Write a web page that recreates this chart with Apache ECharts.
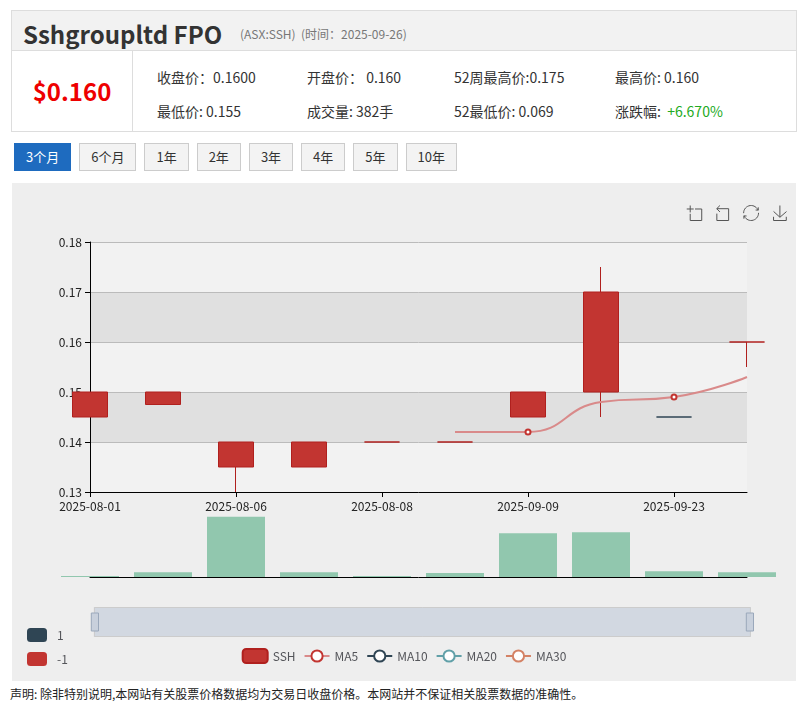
<!DOCTYPE html>
<html><head><meta charset="utf-8">
<script src="https://cdn.jsdelivr.net/npm/echarts@6/dist/echarts.min.js"></script>
<style>
body{margin:0;font-family:"Microsoft YaHei","Noto Sans CJK SC",sans-serif;background:#fff;width:808px;height:711px;position:relative;overflow:hidden}
.head{position:absolute;left:11px;top:10px;width:784px;height:40px;background:#f2f2f2;border:1px solid #ddd;border-bottom:none}
.head b{position:absolute;left:11px;top:5px;font-size:24px;color:#333}
.head span{position:absolute;left:228px;top:14px;font-size:12px;color:#777}
.info{position:absolute;left:11px;top:50px;width:784px;height:80px;border:1px solid #ddd}
.price{position:absolute;left:0;top:0;width:120px;height:80px;border-right:1px solid #ddd;color:#e00;font-size:24px;font-weight:bold;text-align:center;line-height:80px}
.info i{position:absolute;font-style:normal;font-size:14px;color:#333}
.btns{position:absolute;left:14px;top:143px}
.btns a{display:inline-block;height:26px;line-height:26px;padding:0 11px;margin-right:8px;border:1px solid #ccc;background:#f3f3f3;font-size:13px;color:#333}
.btns a.on{background:#1e6bbf;color:#fff;border-color:#1e6bbf}
#main{position:absolute;left:12px;top:183px;width:784px;height:498px;background:#eeeeee}
.note{position:absolute;left:10px;top:685px;font-size:12px;color:#222}
</style></head><body>
<div class="head"><b>Sshgroupltd FPO</b><span>(ASX:SSH)&nbsp;&nbsp;(时间：2025-09-26)</span></div>
<div class="info"><div class="price">$0.160</div>
<i style="left:145px;top:16px">收盘价：0.1600</i><i style="left:295px;top:16px">开盘价：&nbsp;0.160</i><i style="left:442px;top:16px">52周最高价:0.175</i><i style="left:603px;top:16px">最高价: 0.160</i>
<i style="left:145px;top:50px">最低价: 0.155</i><i style="left:295px;top:50px">成交量: 382手</i><i style="left:442px;top:50px">52最低价: 0.069</i><i style="left:603px;top:50px">涨跌幅: &nbsp;<span style="color:#2a2">+6.670%</span></i></div>
<div class="btns"><a class="on">3个月</a><a>6个月</a><a>1年</a><a>2年</a><a>3年</a><a>4年</a><a>5年</a><a>10年</a></div>
<div id="main"></div>
<div class="note">声明: 除非特别说明,本网站有关股票价格数据均为交易日收盘价格。本网站并不保证相关股票数据的准确性。</div>
<script>
const dates = ['2025-08-01','2025-08-05','2025-08-06','2025-08-07','2025-08-08','2025-08-11','2025-09-09','2025-09-10','2025-09-23','2025-09-26'];
// open, close, low, high
const ohlc = [
  [0.150,0.145,0.145,0.150],[0.150,0.1475,0.1475,0.150],[0.140,0.135,0.130,0.140],[0.140,0.135,0.135,0.140],
  [0.140,0.140,0.140,0.140],[0.140,0.140,0.140,0.140],[0.150,0.145,0.145,0.150],[0.150,0.170,0.145,0.175],
  [0.145,0.145,0.145,0.145],[0.160,0.160,0.155,0.160]];
const volumes = [1,5,62,5,1,4,45,46,6,5];
const ma5 = ['-','-','-','-','-',0.142,0.142,0.148,0.149,0.153];
const ma5Marked = [6, 8];
const chart = echarts.init(document.getElementById('main'));
const red = '#c23531', dark = '#2f4554';
chart.setOption({
  animation: false,
  textStyle: {fontFamily: 'Microsoft YaHei, Noto Sans CJK SC, sans-serif'},
  toolbox: {right: -8, top: 5, itemSize: 15, iconStyle: {borderColor: '#555'},
    feature: {dataZoom: {}, restore: {}, saveAsImage: {}}},
  legend: {bottom: 12, data: ['SSH','MA5','MA10','MA20','MA30'], itemGap: 8},
  visualMap: {type: 'piecewise', seriesIndex: 4, dimension: 1, left: 0, bottom: 0, itemWidth: 20, itemHeight: 14,
    pieces: [{value: 1, color: dark, label: '1'}, {value: -1, color: red, label: '-1'}]},
  grid: [{left: 78, right: 49, top: 59, height: 250}, {left: 78, right: 49, top: 326, height: 68}],
  xAxis: [
    {type: 'category', data: dates, boundaryGap: false, axisLine: {lineStyle: {color: '#000'}},
     axisLabel: {interval: 1, color: '#222'}, axisTick: {interval: 1}},
    {type: 'category', gridIndex: 1, data: dates, boundaryGap: false, axisLine: {lineStyle: {color: '#000'}},
     axisLabel: {show: false}, axisTick: {show: false}}
  ],
  yAxis: [
    {min: 0.13, max: 0.18, interval: 0.01, axisLine: {show: true, lineStyle: {color: '#000'}}, axisTick: {show: true},
     axisLabel: {color: '#222'}, splitLine: {lineStyle: {color: '#bbb'}},
     splitArea: {show: true, areaStyle: {color: ['#f2f2f2', '#e0e0e0']}}},
    {gridIndex: 1, show: false, splitLine: {show: false}}
  ],
  dataZoom: [{type: 'slider', xAxisIndex: [0, 1], left: 81, right: 46, top: 424, height: 30, showDataShadow: false,
    fillerColor: 'rgba(167,183,204,0.4)', showDetail: false, borderColor: '#ccc', moveHandleSize: 0,
    handleIcon: 'path://M0,0 L8,0 L8,20 L0,20 Z', handleSize: '60%', handleStyle: {color: '#c8d0dc', borderColor: '#9aa8bb'}}],
  series: [
    {name: 'SSH', type: 'candlestick', barWidth: 36,
     data: ohlc.map((d, i) => i === 8 ? {value: d, itemStyle: {color: dark, borderColor: dark, color0: dark, borderColor0: dark}} : d),
     itemStyle: {color: red, color0: red, borderColor: '#b0201e', borderColor0: '#b0201e'}},
    {name: 'MA5', type: 'line', smooth: true, symbolSize: 5,
     data: ma5.map((v, i) => ({value: v, symbol: ma5Marked.includes(i) ? 'emptyCircle' : 'none'})),
     lineStyle: {color: '#d98a8a', width: 2}, itemStyle: {color: red}},
    {name: 'MA10', type: 'line', data: [], itemStyle: {color: dark}},
    {name: 'MA20', type: 'line', data: [], itemStyle: {color: '#61a0a8'}},
    {name: 'MA30', type: 'line', data: [], itemStyle: {color: '#d48265'}},
    {name: 'Volume', type: 'bar', xAxisIndex: 1, yAxisIndex: 1, barWidth: 58,
     data: volumes, itemStyle: {color: '#91c7ae'}}
  ]
});
</script></body></html>
